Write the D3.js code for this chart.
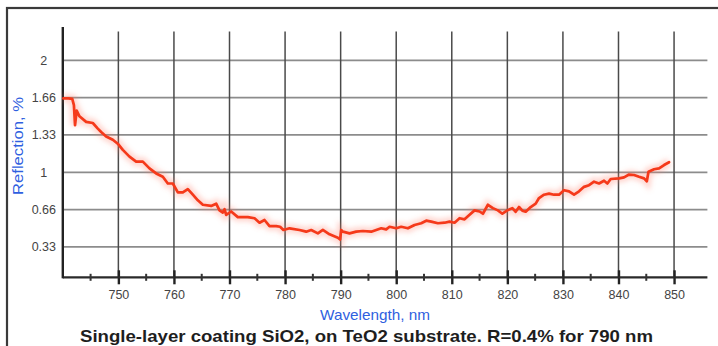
<!DOCTYPE html>
<html>
<head>
<meta charset="utf-8">
<script src="https://cdn.jsdelivr.net/npm/d3@7"></script>
<style>
  html, body { margin: 0; padding: 0; background: #fff; }
  svg { display: block; }
  text { font-family: "Liberation Sans", Arial, sans-serif; }
</style>
</head>
<body>
<svg id="chart" width="718" height="346"></svg>
<script>
// ---- data ----
const wavelength = [
  740.1, 741.0, 741.7, 742.0, 742.2, 742.5, 743.0, 744.2, 745.4, 746.3,
  746.9, 747.8, 749.0, 750.0, 750.8, 752.0, 753.2, 754.4, 755.6, 756.8,
  758.0, 758.9, 759.8, 760.7, 761.6, 762.5, 763.4, 764.3, 765.2, 766.7,
  767.6, 768.2, 768.8, 769.1, 769.4, 770.3, 771.5, 773.3, 774.5, 775.4,
  776.3, 777.2, 778.4, 779.1, 779.7, 780.8, 782.6, 783.8, 784.7, 785.9,
  786.8, 788.0, 789.5, 789.9, 790.1, 790.4, 791.6, 792.8, 794.0, 795.5,
  796.4, 797.3, 798.2, 798.8, 800.0, 800.9, 802.1, 803.3, 804.5, 805.4,
  806.3, 807.5, 808.7, 809.6, 810.5, 811.4, 812.3, 813.2, 814.1, 815.0,
  815.6, 816.5, 817.4, 818.3, 819.1, 820.0, 820.9, 821.5, 822.1, 822.7,
  823.3, 824.2, 825.1, 825.7, 826.6, 827.5, 828.4, 829.3, 830.2, 831.1,
  832.0, 832.9, 833.8, 834.7, 835.6, 836.5, 837.4, 838.0, 838.6, 840.1,
  841.0, 841.9, 842.8, 843.7, 844.6, 845.1, 845.4, 846.4, 847.3, 848.2,
  849.1
];
const reflection = [
  1.66, 1.66, 1.655, 1.60, 1.42, 1.55, 1.50, 1.45, 1.44, 1.39,
  1.36, 1.32, 1.29, 1.25, 1.20, 1.14, 1.095, 1.095, 1.035, 0.99,
  0.96, 0.90, 0.90, 0.82, 0.82, 0.85, 0.80, 0.75, 0.71, 0.70,
  0.72, 0.66, 0.64, 0.67, 0.62, 0.65, 0.60, 0.60, 0.59, 0.55,
  0.574, 0.52, 0.52, 0.514, 0.485, 0.50, 0.485, 0.47, 0.485, 0.455,
  0.485, 0.446, 0.416, 0.40, 0.485, 0.47, 0.455, 0.47, 0.476, 0.47,
  0.485, 0.50, 0.49, 0.514, 0.50, 0.514, 0.50, 0.53, 0.545, 0.568,
  0.56, 0.545, 0.55, 0.56, 0.55, 0.59, 0.58, 0.62, 0.66, 0.65,
  0.63, 0.71, 0.68, 0.66, 0.63, 0.66, 0.68, 0.648, 0.69, 0.657,
  0.648, 0.69, 0.72, 0.77, 0.80, 0.81, 0.80, 0.80, 0.84, 0.83,
  0.80, 0.83, 0.87, 0.885, 0.916, 0.90, 0.925, 0.90, 0.94, 0.946,
  0.955, 0.98, 0.976, 0.96, 0.946, 0.92, 1.005, 1.027, 1.035, 1.065,
  1.09
];
const xMajorTicks = [750, 760, 770, 780, 790, 800, 810, 820, 830, 840, 850];
const xMinorTicks = [745, 755, 765, 775, 785, 795, 805, 815, 825, 835, 845];
const yTickValues = [1/3, 2/3, 1, 4/3, 5/3, 2];
const yTickLabels = ["0.33", "0.66", "1", "1.33", "1.66", "2"];
const xTitle = "Wavelength, nm";
const yTitle = "Reflection, %";
const chartTitle = "Single-layer coating SiO2, on TeO2 substrate. R=0.4% for 790 nm";

// ---- layout ----
const svg = d3.select("#chart");
const x = d3.scaleLinear().domain([740, 856]).range([62.8, 707.4]);
const y = d3.scaleLinear().domain([0, 2]).range([284.3, 60.3]);
const axisY = 277.3, gridTop = 31.5, axisTop = 27;

// outer frame (only top and left edges visible)
svg.append("rect").attr("x", 7).attr("y", 8).attr("width", 760).attr("height", 400)
  .attr("fill", "none").attr("stroke", "#3a3a3a").attr("stroke-width", 2.2);

// horizontal grid
svg.append("g").selectAll("line").data(yTickValues).join("line")
  .attr("x1", x(740)).attr("x2", x(856))
  .attr("y1", d => y(d)).attr("y2", d => y(d))
  .attr("stroke", "#8c8c8c").attr("stroke-width", 1.8);

// vertical grid
svg.append("g").selectAll("line").data(xMajorTicks).join("line")
  .attr("x1", d => x(d)).attr("x2", d => x(d))
  .attr("y1", gridTop).attr("y2", axisY)
  .attr("stroke", "#4a4a4a").attr("stroke-width", 1.5);

// x axis
const xAxis = d3.axisBottom(x).tickValues(xMajorTicks).tickSize(7).tickPadding(6)
  .tickFormat(d3.format("d"));
const gx = svg.append("g").attr("transform", `translate(0,${axisY})`).call(xAxis);
gx.select(".domain").remove();
gx.selectAll(".tick line").attr("stroke", "#222").attr("stroke-width", 2.4).attr("y1", -7);
gx.selectAll(".tick text").attr("font-size", 12.5).attr("fill", "#444")
  .attr("font-family", "'Liberation Sans', Arial, sans-serif");
svg.append("line").attr("x1", x(740)).attr("x2", x(856)).attr("y1", axisY).attr("y2", axisY)
  .attr("stroke", "#2a2a2a").attr("stroke-width", 2.2);
svg.append("g").selectAll("line").data(xMinorTicks).join("line")
  .attr("x1", d => x(d)).attr("x2", d => x(d))
  .attr("y1", axisY - 3.5).attr("y2", axisY + 3.5)
  .attr("stroke", "#333").attr("stroke-width", 2);

// y axis
const yAxis = d3.axisLeft(y).tickValues(yTickValues).tickSize(0)
  .tickFormat((d, i) => yTickLabels[i]);
const gy = svg.append("g").attr("transform", `translate(${x(740)},0)`).call(yAxis);
gy.select(".domain").remove();
gy.selectAll(".tick text").attr("x", -19).attr("text-anchor", "middle")
  .attr("font-size", 12.5).attr("fill", "#444")
  .attr("font-family", "'Liberation Sans', Arial, sans-serif");
svg.append("line").attr("x1", x(740)).attr("x2", x(740)).attr("y1", axisTop).attr("y2", axisY + 1)
  .attr("stroke", "#222").attr("stroke-width", 2.4);

// data line
const pts = wavelength.map((w, i) => [w, reflection[i]]);
const line = d3.line().x(d => x(d[0])).y(d => y(d[1]));
const defs = svg.append("defs");
defs.append("filter").attr("id", "blur").attr("x", "-10%").attr("y", "-50%")
  .attr("width", "120%").attr("height", "200%")
  .append("feGaussianBlur").attr("stdDeviation", 2.5);
svg.append("path").datum(pts).attr("d", line).attr("fill", "none")
  .attr("stroke", "#ff7a66").attr("stroke-opacity", 0.3).attr("stroke-width", 9)
  .attr("filter", "url(#blur)");
svg.append("path").datum(pts).attr("d", line).attr("fill", "none")
  .attr("stroke", "#f5391a").attr("stroke-width", 2.7)
  .attr("stroke-linejoin", "round").attr("stroke-linecap", "round");

// titles
svg.append("text").attr("x", 375).attr("y", 320).attr("text-anchor", "middle")
  .attr("font-size", 15).attr("fill", "#2f5fe0")
  .attr("textLength", 110).attr("lengthAdjust", "spacingAndGlyphs").text(xTitle);
svg.append("text").attr("transform", "translate(23,146) rotate(-90)")
  .attr("text-anchor", "middle").attr("font-size", 15).attr("fill", "#2f5fe0")
  .attr("textLength", 98).attr("lengthAdjust", "spacingAndGlyphs").text(yTitle);
svg.append("text").attr("x", 366.5).attr("y", 341.5).attr("text-anchor", "middle")
  .attr("font-size", 17).attr("font-weight", "bold").attr("fill", "#1e1e1e")
  .attr("textLength", 573).attr("lengthAdjust", "spacingAndGlyphs").text(chartTitle);
</script>
</body>
</html>
